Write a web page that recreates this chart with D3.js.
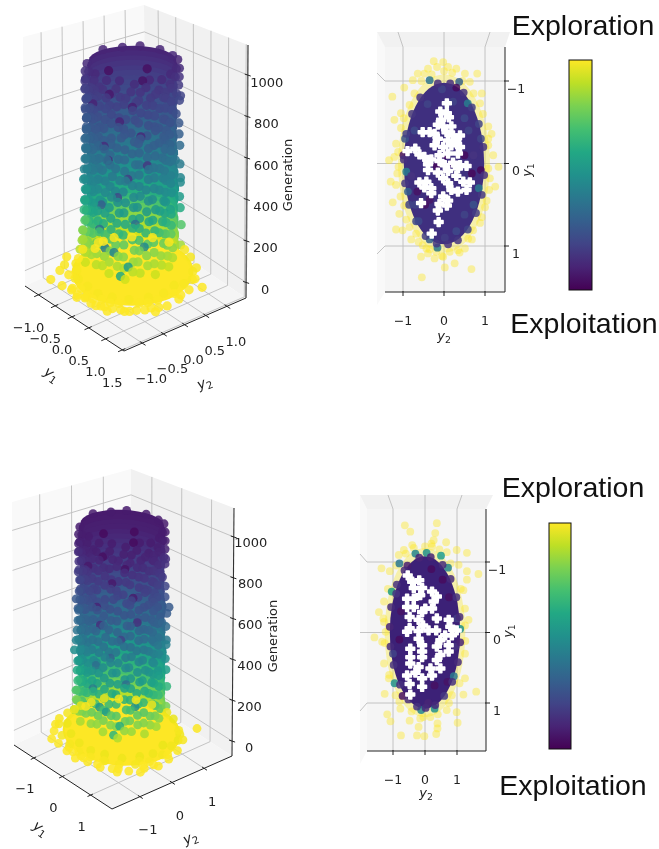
<!DOCTYPE html>
<html>
<head>
<meta charset="utf-8">
<script src="https://cdn.jsdelivr.net/npm/d3@7"></script>
<style>
  html, body { margin: 0; background: #fff; }
  svg { display: block; filter: blur(0.35px); }
  text { font-family: "DejaVu Sans", sans-serif; fill: #222; }
  .big { font-family: "Liberation Sans", Arial, sans-serif; fill: #111; font-size: 28.5px; }
</style>
</head>
<body>
<div id="chart"></div>
<script>
// ---- tick labels ----
var y1TicksA = [-1, -0.5, 0, 0.5, 1, 1.5];
var y2TicksA = [-1, -0.5, 0, 0.5, 1];
var y1TicksB = [-1, 0, 1];
var y2TicksB = [-1, 0, 1];
var genTicks = [0, 200, 400, 600, 800, 1000];
var topTicks = [-1, 0, 1];

// generation -> position on the colour bar
var genStopsA = [0, 30, 120, 217, 315, 460, 700, 940, 1050];
var colorStopsA = [1, 0.99, 0.91, 0.8, 0.63, 0.48, 0.3, 0.17, 0.1];
var genStopsB = [0, 25, 123, 222, 320, 517, 763, 960, 1050];
var colorStopsB = [1, 0.98, 0.85, 0.7, 0.58, 0.37, 0.2, 0.09, 0.07];

// column outline: generation, radius
var bandsA = [[1045,.8],[1020,.83],[995,.82],[970,.84],[945,.81],[920,.83],[895,.82],[870,.85],[845,.83],[820,.81],[795,.83],[770,.82],[745,.8],[720,.82],[695,.81],[670,.83],[645,.81],[620,.82],[595,.84],[570,.82],[545,.81],[520,.83],[495,.85],[470,.83],[445,.84],[420,.86],[395,.84],[370,.85],[345,.83],[320,.84],[295,.83],[270,.85],[245,.84],[220,.83],[195,.86],[170,.85],[145,.86],[120,.86],[95,.88],[70,.91],[50,.98],[30,1.08],[15,1.13],[0,1.1]];
var bandsB = [[1045,.96],[1020,1],[995,.99],[970,1.01],[945,.98],[920,1],[895,.99],[870,1.01],[845,.99],[820,.98],[795,1],[770,.98],[745,.97],[720,.99],[695,.98],[670,1],[645,1.03],[620,1.01],[595,.98],[570,.99],[545,1],[520,1.01],[495,1],[470,1.02],[445,1.01],[420,1.04],[395,1.03],[370,1.01],[345,1],[320,1.02],[295,1.01],[270,1],[245,1.02],[220,1.01],[195,1],[170,1.02],[145,1.02],[120,1.03],[95,1.05],[70,1.09],[50,1.18],[30,1.3],[15,1.38],[0,1.34]];

// column points: y1, y2, generation
var bodyA = [
[-.84,0,1040],[-.74,.38,1036],[-.55,.64,1042],[-.2,.82,1038],[.15,.83,1032],[.44,.71,1040],[.7,.46,1028],
[-.6,-.58,1022],[-.34,-.76,1012],[-.06,-.84,1025],[.22,-.8,1010],[.47,-.7,1020],[.68,-.52,1008],[.82,-.28,1024],[.86,-.02,1014],[.8,.24,1021],[.62,.6,1016],
[-.63,-.6,985],[-.37,-.8,975],[-.1,-.83,990],[.18,-.86,968],[.43,-.75,982],[.64,-.57,972],[.78,-.33,988],[.84,-.07,966],[.84,.2,978],[.72,.42,992],[.58,.63,970],
[-.6,-.63,940],[-.32,-.78,925],[-.04,-.86,948],[.24,-.82,930],[.49,-.7,944],[.7,-.5,922],[.83,-.26,938],[.87,.02,928],[.78,.28,950],[.6,.6,934],
[-.64,-.6,895],[-.36,-.8,880],[-.09,-.85,902],[.2,-.8,875],[.44,-.74,898],[.66,-.54,884],[.79,-.32,905],[.84,-.05,878],[.83,.24,892],[.71,.46,908],[.63,.62,882],
[-.61,-.6,850],[-.33,-.75,832],[-.06,-.87,855],[.23,-.84,828],[.48,-.72,848],[.68,-.5,838],[.81,-.3,860],[.86,.02,825],[.78,.3,845],[.6,.62,858],
[-.6,-.62,800],[-.38,-.78,785],[-.11,-.84,805],[.17,-.82,780],[.44,-.7,798],[.64,-.56,778],[.8,-.28,808],[.85,-.08,788],[.84,.2,795],[.7,.46,810],
[-.62,-.58,755],[-.35,-.8,735],[-.05,-.83,760],[.22,-.86,730],[.5,-.68,752],[.69,-.52,738],[.82,-.33,765],[.87,.03,742],[.76,.26,728],[.61,.6,750],
[-.58,-.62,705],[-.32,-.77,690],[-.08,-.85,712],[.19,-.82,685],[.45,-.74,705],[.66,-.55,682],[.79,-.27,698],[.84,-.06,715],[.82,.22,688],[.64,.58,700],
[-.62,-.62,655],[-.36,-.79,640],[-.1,-.86,662],[.23,-.8,635],[.47,-.72,652],[.7,-.5,630],[.81,-.31,660],[.86,.01,642],[.78,.28,650],[.6,.63,638],
[-.62,-.6,605],[-.34,-.8,590],[-.06,-.83,612],[.18,-.86,586],[.43,-.75,606],[.67,-.56,580],[.8,-.27,600],[.84,-.04,592],[.85,.2,610],[.68,.46,585],
[-.63,-.61,555],[-.37,-.78,540],[-.12,-.84,560],[.21,-.82,535],[.49,-.7,552],[.65,-.53,530],[.83,-.3,558],[.87,.02,545],[.79,.27,532],[.62,.62,550],
[-.64,-.62,505],[-.33,-.82,490],[-.07,-.87,510],[.24,-.84,485],[.44,-.76,502],[.7,-.54,480],[.8,-.33,508],[.85,-.05,492],[.82,.24,500],[.66,.6,488],
[-.65,-.63,455],[-.36,-.8,440],[-.1,-.85,460],[.19,-.86,435],[.47,-.73,450],[.67,-.52,428],[.82,-.29,455],[.88,.03,438],[.78,.3,448],[.62,.63,460],
[-.64,-.6,405],[-.34,-.82,390],[-.05,-.88,412],[.22,-.83,385],[.5,-.72,402],[.7,-.56,378],[.81,-.32,406],[.85,-.04,392],[.84,.22,380],[.66,.58,398],
[-.62,-.63,355],[-.37,-.79,340],[-.09,-.86,362],[.2,-.85,335],[.46,-.74,352],[.66,-.53,330],[.83,-.28,358],[.88,0,342],[.8,.27,350],[.63,.62,338],
[-.65,-.62,305],[-.33,-.8,290],[-.06,-.88,310],[.23,-.83,285],[.48,-.71,302],[.68,-.55,280],[.8,-.33,306],[.86,-.06,292],[.83,.25,300],
[-.63,-.62,255],[-.36,-.82,240],[-.11,-.85,260],[.18,-.87,235],[.44,-.75,250],[.7,-.52,230],[.82,-.3,254],[.89,.02,238],[.76,.3,248],[.66,.62,258],
[-.67,-.64,205],[-.34,-.84,190],[-.07,-.9,210],[.24,-.86,185],[.5,-.74,200],[.72,-.56,180],[.84,-.34,204],[.9,-.05,186],[.86,.26,196],
[-.66,-.64,160],[-.36,-.84,145],[-.09,-.9,165],[.21,-.88,140],[.5,-.76,155],[.72,-.57,135],[.86,-.33,158],[.91,-.04,142],[.87,.25,150],[.67,.6,162]
];
var bodyA2 = [
[-.5,-.7,962],[-.2,-.82,948],[.08,-.85,972],[.34,-.78,955],[.57,-.63,940],[.74,-.43,968],[.85,-.16,952],[.82,.1,944],
[-.48,-.72,918],[-.24,-.84,905],[.04,-.86,925],[.31,-.8,898],[.55,-.66,912],[.72,-.45,930],[.83,-.2,900],[.86,.08,920],
[-.47,-.68,870],[-.21,-.83,852],[.07,-.84,880],[.35,-.79,858],[.58,-.64,842],[.75,-.42,872],[.84,-.17,850],[.8,.12,866],
[-.5,-.71,822],[-.23,-.81,805],[.05,-.87,830],[.32,-.77,812],[.56,-.67,798],[.73,-.46,826],[.86,-.18,800],[.84,.09,815],
[-.46,-.7,775],[-.2,-.84,758],[.08,-.85,782],[.36,-.8,748],[.54,-.63,768],[.76,-.44,752],[.83,-.14,778],[.82,.13,760],
[-.49,-.69,728],[-.22,-.82,708],[.06,-.86,735],[.33,-.78,715],[.57,-.65,700],[.74,-.47,730],[.85,-.19,712],[.85,.07,722],
[-.47,-.72,678],[-.24,-.85,660],[.03,-.84,688],[.34,-.81,668],[.55,-.64,650],[.72,-.43,682],[.84,-.15,660],[.81,.11,672],
[-.5,-.7,628],[-.19,-.82,610],[.09,-.87,635],[.31,-.79,618],[.58,-.66,600],[.75,-.45,630],[.86,-.2,608],[.84,.1,622],
[-.48,-.71,578],[-.21,-.83,562],[.05,-.85,585],[.36,-.77,565],[.56,-.62,550],[.73,-.44,580],[.83,-.16,556],[.83,.08,572],
[-.46,-.7,528],[-.23,-.84,510],[.07,-.87,535],[.33,-.8,518],[.54,-.66,500],[.76,-.46,530],[.85,-.18,508],[.81,.13,522],
[-.5,-.72,478],[-.2,-.82,460],[.04,-.86,485],[.35,-.78,468],[.57,-.63,450],[.74,-.42,480],[.84,-.21,458],[.86,.09,472],
[-.48,-.7,428],[-.24,-.85,410],[.08,-.84,435],[.32,-.81,418],[.55,-.65,402],[.72,-.47,430],[.86,-.15,408],[.83,.11,422],
[-.49,-.73,378],[-.21,-.83,360],[.06,-.88,385],[.34,-.79,368],[.58,-.64,350],[.75,-.44,378],[.83,-.19,358],[.85,.08,372],
[-.47,-.71,328],[-.23,-.84,310],[.05,-.86,335],[.36,-.8,318],[.56,-.67,300],[.73,-.43,328],[.85,-.16,308],[.82,.13,322],
[-.5,-.7,278],[-.2,-.86,260],[.08,-.85,285],[.33,-.78,268],[.54,-.64,250],[.76,-.46,278],[.87,-.2,258],[.84,.1,272],
[-.52,-.75,228],[-.24,-.87,210],[.06,-.9,235],[.36,-.82,218],[.58,-.68,200],[.76,-.45,228],[.86,-.18,208],[.88,.11,222],
[-.54,-.76,178],[-.24,-.88,160],[.07,-.9,185],[.36,-.84,168],[.6,-.69,150],[.76,-.48,178],[.88,-.19,158],[.9,.11,172],
[-.6,-.76,128],[-.27,-.9,110],[.08,-.92,135],[.38,-.86,118],[.63,-.68,100],[.8,-.46,128],[.9,-.18,108],[.92,.12,122]
];
var footA = [
[-.82,-1.28,4],[-.52,-1.25,3],[-.9,-1,15],[1.2,.69,5],[1.31,-.5,2],[.72,-1.17,2],[-.98,-.5,20],[-1.05,-.05,21],[-.7,-.95,10],[-.3,-1.18,7],[-.02,-1.3,3],[.3,-1.22,1],[.52,-1.16,5],[.84,-.95,2],[1.05,-.74,3],[1.18,-.5,7],[1.28,-.2,1],[1.25,.1,5],[1.15,.42,11],[.95,.72,17],[-.45,-1,24],[-.15,-1.1,13],[.1,-1.15,9],[.4,-1.05,15],[.7,-.88,11],[.95,-.6,14],[1.1,-.28,17],[1.12,.1,18],[1,.42,25],[.78,.8,28],
[-.62,-.82,30],[-.35,-1,31],[-.05,-1.02,28],[.25,-1.02,24],[.55,-.92,29],[.8,-.72,26],[1,-.42,31],[1.05,-.1,29],[.98,.2,33],[-.8,-.7,33],
[.05,-1.15,0],[.55,-1.1,0],[.98,-.85,0],[1.12,-.6,0],[-.1,-1.22,0],[.2,-1.1,0],[.42,-1.2,0],[.7,-1.03,0],[.92,-.92,0],[1.22,-.35,0],
[-1.1,-.3,35],[-1.14,.1,27],[-1.05,.4,34],[-.9,.7,26],[-.6,.95,33],[-.3,1.1,29],[.1,1.15,31],[.4,1.05,36],[.7,.95,24],[1.02,.6,31],[-1.2,-.6,14],[-1.18,.25,15],[-.95,-.85,24],[.15,-1.24,12],[.62,-1.02,18],[1.08,-.5,22],[1.18,.2,9],[-.2,-1.28,18]
];
var spotsA = [
[.3,-.82,640,.14],[.6,-.6,560,.18],[.2,-.84,700,.13],[.75,-.42,760,.12],[.5,-.72,830,.1],[-.1,-.86,880,.1],[.66,-.55,900,.09],[.45,-.72,470,.22],[.15,-.86,420,.3],[.7,-.5,350,.36],[.25,-.85,225,.42],[.62,-.6,150,.55],[.4,-.76,210,.45],[.78,-.35,240,.48],[.1,-.86,300,.36],[.52,-.7,105,.6],[.8,-.3,620,.16],[.3,-.8,950,.07],[.65,-.3,1010,.05],[-.2,-.4,1005,.04],[.3,.1,1020,.04]
];
var bodyB = [
[-.98,0,1040],[-.86,.45,1035],[-.64,.74,1042],[-.22,.96,1038],[.18,.97,1032],[.52,.83,1040],[.8,.52,1028],
[-.7,-.68,1022],[-.4,-.9,1012],[-.08,-.98,1025],[.24,-.95,1010],[.54,-.83,1020],[.78,-.62,1008],[.94,-.33,1024],[1,-.04,1014],[.96,.27,1021],[.7,.7,1016],
[-.72,-.7,985],[-.42,-.93,975],[-.12,-.99,990],[.2,-1,968],[.5,-.86,982],[.75,-.65,972],[.9,-.38,988],[.98,-.08,966],[.97,.22,978],[.84,.5,992],[.68,.72,970],
[-.7,-.72,940],[-.38,-.92,925],[-.06,-1,948],[.26,-.96,930],[.56,-.82,944],[.8,-.6,922],[.95,-.3,938],[1.01,.02,928],[.92,.3,950],[.72,.68,934],
[-.74,-.69,895],[-.42,-.9,880],[-.1,-.99,902],[.22,-.95,875],[.5,-.87,898],[.76,-.63,884],[.9,-.36,905],[.97,-.06,878],[.96,.25,892],[.83,.54,908],[.7,.72,882],
[-.71,-.7,850],[-.38,-.88,832],[-.08,-1.01,855],[.25,-.98,828],[.54,-.84,848],[.78,-.6,838],[.93,-.34,860],[.99,.02,825],[.9,.33,845],[.7,.7,858],
[-.7,-.73,800],[-.44,-.9,785],[-.13,-.97,805],[.18,-.96,780],[.5,-.82,798],[.74,-.65,778],[.92,-.32,808],[.98,-.1,788],[.97,.22,795],[.81,.52,810],
[-.72,-.67,755],[-.4,-.93,735],[-.06,-.96,760],[.25,-1,730],[.57,-.8,752],[.8,-.6,738],[.94,-.37,765],[1,.03,742],[.88,.3,728],[.71,.7,750],
[-.68,-.72,705],[-.37,-.9,690],[-.1,-.98,712],[.2,-.96,685],[.52,-.86,705],[.77,-.64,682],[.91,-.31,698],[.97,-.07,715],[.95,.24,688],[.74,.67,700],
[-.76,-.74,662],[-.46,-.96,648],[-.14,-1.03,668],[.27,-.93,635],[.54,-.84,652],[.8,-.58,630],[.93,-.36,660],[1,.01,642],[.98,.3,640],[.8,.74,650],[.9,.58,635],
[-.72,-.7,605],[-.4,-.93,590],[-.07,-.97,612],[.2,-1,586],[.5,-.87,606],[.78,-.65,580],[.92,-.31,600],[.97,-.05,592],[.98,.22,610],[.79,.53,585],
[-.73,-.71,555],[-.43,-.9,540],[-.14,-.98,560],[.23,-.96,535],[.56,-.82,552],[.75,-.62,530],[.95,-.35,558],[1.01,.02,545],[.91,.31,532],[.72,.72,550],
[-.75,-.72,505],[-.38,-.95,490],[-.08,-1.01,510],[.27,-.97,485],[.51,-.88,502],[.8,-.62,480],[.92,-.38,508],[.98,-.06,492],[.95,.27,500],[.76,.7,488],
[-.76,-.74,455],[-.42,-.93,440],[-.12,-.99,460],[.22,-1,435],[.54,-.85,450],[.78,-.6,428],[.95,-.34,455],[1.02,.03,438],[.9,.35,448],[.72,.73,460],
[-.8,-.76,405],[-.4,-.95,390],[-.06,-1.02,412],[.25,-.96,385],[.58,-.83,402],[.81,-.65,378],[.94,-.37,406],[.98,-.05,392],[.97,.25,380],[.76,.67,398],
[-.72,-.73,355],[-.43,-.92,340],[-.1,-1,362],[.23,-.98,335],[.53,-.86,352],[.76,-.61,330],[.96,-.32,358],[1.02,0,342],[.93,.31,350],[.73,.72,338],
[-.75,-.72,305],[-.38,-.93,290],[-.07,-1.02,310],[.27,-.96,285],[.56,-.82,302],[.79,-.64,280],[.93,-.38,306],[1,-.07,292],[.96,.29,300],
[-.73,-.72,255],[-.42,-.95,240],[-.13,-.98,260],[.2,-1.01,235],[.51,-.87,250],[.81,-.6,230],[.95,-.35,254],[1.03,.02,238],[.88,.35,248],[.76,.72,258],
[-.77,-.74,205],[-.39,-.97,190],[-.08,-1.04,210],[.28,-1,185],[.58,-.86,200],[.83,-.65,180],[.97,-.39,204],[1.04,-.06,186],[1,.3,196],
[-.76,-.74,160],[-.42,-.97,145],[-.11,-1.03,165],[.24,-1,140],[.57,-.87,155],[.82,-.66,135],[.97,-.38,158],[1.04,-.05,142],[.99,.27,150],[.76,.7,162]
];
var bodyB2 = [
[-.56,-.82,962],[-.24,-.95,948],[.09,-.99,972],[.38,-.9,955],[.66,-.73,940],[.85,-.5,968],[.98,-.19,952],[.95,.11,944],
[-.55,-.84,918],[-.28,-.97,905],[.05,-.99,925],[.36,-.92,898],[.63,-.76,912],[.83,-.52,930],[.95,-.23,900],[.99,.09,920],
[-.54,-.78,870],[-.24,-.95,852],[.08,-.97,880],[.4,-.91,858],[.67,-.74,842],[.86,-.48,872],[.97,-.2,850],[.92,.14,866],
[-.58,-.82,822],[-.26,-.93,805],[.06,-1,830],[.37,-.89,812],[.64,-.77,798],[.84,-.53,826],[.99,-.21,800],[.97,.1,815],
[-.53,-.8,775],[-.23,-.97,758],[.09,-.98,782],[.41,-.92,748],[.62,-.72,768],[.87,-.51,752],[.95,-.16,778],[.94,.15,760],
[-.56,-.79,728],[-.25,-.94,708],[.07,-.99,735],[.38,-.9,715],[.66,-.75,700],[.85,-.54,730],[.98,-.22,712],[.98,.08,722],
[-.54,-.83,678],[-.28,-.98,660],[.03,-.97,688],[.39,-.93,668],[.63,-.74,650],[.83,-.49,682],[.97,-.17,660],[.93,.13,672],
[-.58,-.8,628],[-.22,-.94,610],[.1,-1,635],[.36,-.91,618],[.67,-.76,600],[.86,-.52,630],[.99,-.23,608],[.97,.11,622],
[-.55,-.82,578],[-.24,-.95,562],[.06,-.98,585],[.41,-.89,565],[.64,-.71,550],[.84,-.51,580],[.95,-.18,556],[.95,.09,572],
[-.53,-.8,528],[-.26,-.97,510],[.08,-1,535],[.38,-.92,518],[.62,-.76,500],[.87,-.53,530],[.98,-.21,508],[.93,.15,522],
[-.58,-.83,478],[-.23,-.94,460],[.05,-.99,485],[.4,-.9,468],[.66,-.72,450],[.85,-.48,480],[.97,-.24,458],[.99,.1,472],
[-.55,-.8,428],[-.28,-.98,410],[.09,-.97,435],[.37,-.93,418],[.63,-.75,402],[.83,-.54,430],[.99,-.17,408],[.95,.13,422],
[-.56,-.84,378],[-.24,-.95,360],[.07,-1.01,385],[.39,-.91,368],[.67,-.74,350],[.86,-.51,378],[.95,-.22,358],[.98,.09,372],
[-.54,-.82,328],[-.26,-.97,310],[.06,-.99,335],[.41,-.92,318],[.64,-.77,300],[.84,-.49,328],[.98,-.18,308],[.94,.15,322],
[-.58,-.8,278],[-.23,-.99,260],[.09,-.98,285],[.38,-.9,268],[.62,-.74,250],[.87,-.53,278],[1,-.23,258],[.97,.11,272],
[-.6,-.86,228],[-.28,-1,210],[.07,-1.03,235],[.41,-.94,218],[.67,-.78,200],[.87,-.52,228],[.99,-.21,208],[1.01,.13,222],
[-.6,-.86,178],[-.27,-1,160],[.08,-1.02,185],[.41,-.95,168],[.67,-.78,150],[.86,-.53,178],[.99,-.21,158],[1.01,.13,172],
[-.66,-.9,128],[-.3,-1.03,110],[.1,-1.06,135],[.43,-.98,118],[.72,-.78,100],[.9,-.51,128],[1.02,-.21,108],[1.04,.14,122]
];
var footB = [
[.9,1.55,6],[-1.36,-.73,10],[-.86,-1.43,3],[1.15,-1.18,1],[1.48,-.75,1],[-1.2,-1,14],[-1.3,-.3,30],[-1.05,-1.18,7],[-.6,-1.45,5],[-.25,-1.5,3],[.1,-1.55,2],[.42,-1.45,5],[.75,-1.35,1],[1,-1.2,6],[1.3,-.95,4],[1.45,-.6,7],[1.55,-.25,3],[1.5,.12,8],[1.38,.5,13],[1.15,.88,19],[-.7,-1.25,21],[-.35,-1.32,16],[0,-1.35,11],[.35,-1.3,13],[.68,-1.18,15],[1,-.98,12],[1.25,-.7,15],[1.35,-.35,14],[1.36,.05,20],[1.22,.45,25],[1,.92,29],[-.95,-.85,31],[-.55,-1.1,33],[-.15,-1.2,30],[.25,-1.2,28],[.6,-1.08,32],[.95,-.85,28],[1.18,-.5,33],[1.25,-.15,30],[1.15,.25,35],[.6,-1.3,0],[1.05,-1.05,0],[.2,-1.38,0],[-.15,-1.4,0],[1.3,-.5,0],[1.42,-.28,0],
[-1.3,-.1,35],[-1.32,.25,25],[-1.2,.55,34],[-1.02,.85,26],[-.7,1.1,33],[-.35,1.28,29],[.12,1.32,31],[.45,1.22,36],[.82,1.05,24],[1.18,.7,31],[-1.38,-.45,15],[-1.35,.1,11],[-1.1,-.98,24],[.18,-1.44,12],[.72,-1.18,18],[1.25,-.58,22],[1.35,.22,9],[-.23,-1.45,18]
];
var spotsB = [
[.3,-.96,620,.14],[.7,-.68,560,.2],[.2,-.98,700,.1],[.86,-.45,760,.08],[.56,-.84,830,.07],[-.1,-.98,880,.07],[.76,-.62,900,.05],[.52,-.84,470,.3],[.2,-1,420,.36],[.8,-.6,350,.36],[.3,-.97,225,.52],[.7,-.7,150,.62],[.45,-.9,210,.55],[.9,-.4,240,.5],[.1,-1,300,.42],[.6,-.8,105,.65],[.9,-.35,640,.14],[.35,-.94,950,.04],[.7,-.3,1010,.03],[-.2,-.4,1005,.03],[.3,.1,1020,.03]
];

// top views: y2, y1
var eliteC = [[.07,-.73],[-.09,-.63],[.07,-.61],[-.07,-.53],[.12,-.56],[-.15,-.47],[-.02,-.45],[.18,-.45],[-.52,-.38],[-.35,-.38],[-.23,-.36],[.06,-.38],[.22,-.34],[.39,-.34],[-.15,-.3],[.1,-.28],[.3,-.26],[-.23,-.22],[-.02,-.2],[.18,-.22],[.39,-.2],[-.89,-.15],[-.7,-.18],[-.6,-.11],[-.48,-.08],[.34,-.12],[-.11,-.1],[.1,-.12],[-.31,-.05],[-.11,-.03],[.22,-.01],[.39,.02],[.55,.03],[-.39,.01],[.02,.02],[-.39,.08],[-.15,.11],[.1,.09],[.34,.06],[-.6,.23],[-.43,.22],[-.02,.18],[.3,.15],[.63,.23],[-.48,.29],[-.31,.3],[.1,.24],[.47,.22],[-.31,.36],[.18,.32],[.34,.34],[.55,.32],[-.02,.4],[.1,.45],[-.56,.48],[-.11,.49],[.07,.51],[-.15,.57],[-.13,.71],[-.3,.85]];
var eliteD = [[-.54,-.81],[-.4,-.72],[-.18,-.74],[-.35,-.63],[-.09,-.63],[.22,-.58],[.37,-.51],[-.56,-.48],[-.35,-.48],[-.15,-.53],[.27,-.44],[-.56,-.36],[-.35,-.36],[.01,-.34],[.22,-.34],[-.09,-.29],[-.48,-.22],[-.2,-.18],[.37,-.2],[.74,-.18],[.79,-.08],[.99,-.03],[-.06,-.1],[-.48,-.06],[-.2,-.02],[.11,-.03],[.35,-.03],[-.56,-.01],[.63,.04],[.84,.04],[-.2,.09],[.48,.11],[.74,.18],[-.46,.23],[-.09,.18],[.37,.2],[-.09,.27],[.74,.27],[.48,.32],[-.46,.35],[-.09,.35],[.37,.39],[-.46,.44],[-.2,.49],[.17,.51],[.48,.51],[-.56,.61],[-.3,.57],[.22,.61],[-.09,.65],[-.48,.73],[-.09,.77],[-.46,.88]];
var earlyC = [[-.25,-1.24],[-.02,-1.23],[-.39,-1.15],[-.17,-1.17],[.1,-1.17],[.3,-1.15],[.51,-1.09],[.81,-1.09],[-.64,-1.09],[-.48,-1.09],[-.76,-1.01],[-.97,-.92],[-1.26,-.81],[.63,-.99],[.92,-.85],[-.84,-.71],[-1.21,-.53],[-1.05,-.43],[1.16,-.36],[-1.17,-.24],[1.08,-.22],[1.2,-.1],[-1.34,-.04],[1.08,.06],[1.33,.04],[-1.3,.22],[-1.17,.26],[1.25,.28],[-1.25,.47],[1,.53],[-1.09,.61],[-.97,.51],[.92,.65],[-1.17,.8],[-.84,.77],[.71,.81],[-.8,.92],[.59,.91],[-.56,1.13],[-.39,1.09],[-.23,1.15],[-.02,1.13],[.26,1.21],[.02,1.26],[.67,1.28],[-.54,1.38],[-.19,1.07],[.34,1.05],[.51,1.03],[-.68,.85],[-1.21,-.08],[1.08,-.45],[.88,-.73],[-1.05,-.61],[-1.11,.04],[1.04,.45],[-1.01,.81],[-.43,1.03],[.14,1.07],[-.52,.99],
[-.3,-1.08],[.2,-1.1],[.45,-1],[.72,-.85],[.95,-.6],[1.08,-.3],[1.12,.18],[1.1,.32],[.88,.72],[.68,.92],[.38,1.08],[-.05,1.12],[-.35,1.04],[-.62,.95],[-.92,.68],[-1.06,.4],[-1.14,.12],[-1.12,-.14],[-.98,-.55],[-.72,-.85],[-.55,-1],[.0,-1.12]];
var earlyD = [[-.63,-1.52],[-.46,-1.43],[.37,-1.55],[.32,-1.41],[.27,-1.31],[.22,-1.22],[.66,-1.28],[-.4,-1.24],[-.66,-1.17],[-.82,-1.1],[.99,-1.17],[1.31,-1.13],[.68,-1.14],[-1.36,-.91],[-1.1,-.87],[1.31,-.87],[1.67,-.83],[1.31,-.75],[1.05,-.96],[1.2,-.6],[-1.03,-.58],[-1.28,-.44],[1.25,-.34],[-1.44,-.29],[1.36,-.18],[-1.28,-.15],[-1.58,.07],[-1.34,.13],[-1.28,.44],[1.25,.3],[-1.13,.65],[1.25,.65],[-1.26,.87],[1.2,.88],[1.6,.84],[-.92,.89],[.84,.89],[-1.18,1.16],[-1.08,1.26],[-.48,1.25],[-.15,1.22],[.17,1.2],[.99,1.13],[1.02,1.28],[.39,1.29],[.39,1.36],[-.2,1.34],[-.75,1.46],[-.25,1.46],[.35,1.44],[-.02,1.47],[.68,1.1],[-.77,1.08],[-1.23,-.01],
[-.35,-1.2],[.0,-1.22],[.45,-1.18],[.8,-.98],[1.12,-.62],[1.25,-.1],[1.26,.12],[1.08,.72],[.75,1],[.4,1.16],[-.05,1.2],[-.42,1.12],[-.8,.98],[-1.12,.6],[-1.26,.15],[-1.3,-.2],[-1.16,-.62],[-.9,-.95],[-.6,-1.12],[.2,-1.26]];
// y2, y1, colour bar position
var massC = [[-.35,-1.01,.38],[.37,-.99,.3],[-.16,1.02,.4],[-.99,-.1,.05],[-.92,.1,.42],[-.88,.34,.3],[.3,-.92,.03],[.58,-.73,.42],[.85,.3,.4],[.9,.08,.02],[.68,.12,.02],[-.65,.34,.05],[-.46,.5,.04],[-.35,.44,.06],[.2,.0,.05],[-.18,.03,.03],[.22,-.75,.2],[-.4,-.72,.2],[-.72,-.4,.22],[-.95,-.3,.25],[.6,-.4,.2],[.5,-.55,.22],[-.7,.5,.2],[-.62,.7,.22],[.5,.62,.2],[.72,.5,.25],[.3,.82,.22],[-.35,.92,.3],[.02,.9,.18],[-.05,-.9,.2],[.05,-.1,.03],[.5,-.1,.03],[.72,-.1,.15],[-.8,.15,.15],[.9,-.3,.2],
[-.15,-.97,.14],[.15,-.97,.14],[.48,-.86,.15],[.68,-.68,.18],[.85,-.48,.2],[.96,-.2,.15],[.98,.14,.14],[.92,.38,.16],[.78,.6,.18],[.58,.8,.2],[.34,.93,.16],[.1,.98,.15],[-.18,.97,.16],[-.45,.88,.18],[-.68,.7,.22],[-.85,.5,.2],[-.95,.24,.16],[-.98,-.05,.14],[-.92,-.36,.18],[-.78,-.6,.16],[-.58,-.8,.15]];
var massD = [[-.3,-1.12,.45],[.05,-1.13,.5],[.5,-1.09,.55],[.72,-.92,.45],[-.8,-.98,.4],[-1.04,-.58,.55],[1.1,-.05,.5],[-.95,.72,.5],[-.12,1.1,.45],[.3,1.08,.5],[.9,.62,.4],[-1,.3,.2],[-.8,.1,.03],[-.75,-.3,.05],[.75,-.5,.04],[.55,-.75,.03],[.7,.7,.05],[.3,.75,.04],[-.7,.9,.04],[.95,.2,.15],[1,-.2,.18],[-.9,-.55,.15],[-.55,-.95,.08],[.2,-.9,.03],[.1,1,.1],
[-.18,-1.06,.1],[.18,-1.07,.1],[.55,-.96,.12],[.8,-.76,.12],[.98,-.5,.14],[1.08,-.22,.12],[1.1,.14,.1],[1.03,.42,.12],[.85,.7,.14],[.6,.9,.16],[.32,1.03,.12],[.02,1.07,.12],[-.25,1.05,.14],[-.52,.95,.12],[-.78,.74,.14],[-.98,.46,.14],[-1.08,.2,.12],[-1.1,-.08,.1],[-1.06,-.36,.12],[-.88,-.68,.14],[-.64,-.88,.12]];

// ---- colours ----
var C_LEFT = "#f9f9f9", C_RIGHT = "#f1f1f1", C_FLOOR = "#f5f5f5", C_GRID = "#bdbdbd";

var svg = d3.select("#chart").append("svg")
    .attr("width", 659)
    .attr("height", 849);

function lerp(a, b, t) { return [a[0] + (b[0] - a[0]) * t, a[1] + (b[1] - a[1]) * t]; }
function viridisAt(t) { return d3.interpolateViridis(t); }

// y with subscript, as mathtext prints it
function mathLabel(g, x, y, sub, rotate, size) {
  var t = g.append("text")
      .attr("text-anchor", "middle")
      .attr("transform", "translate(" + x + "," + y + ") rotate(" + rotate + ")")
      .style("font-size", size + "px");
  t.append("tspan").style("font-style", "oblique").text("y");
  t.append("tspan").attr("dy", 3).style("font-size", (size * 0.72) + "px").text(sub);
}

// 3d panel: box corners give a trilinear map from data to the page
function drawColumn(cfg) {
  var g = svg.append("g");
  var sy1 = d3.scaleLinear().domain(cfg.y1Domain).range([0, 1]);
  var sy2 = d3.scaleLinear().domain(cfg.y2Domain).range([0, 1]);
  var sz = d3.scaleLinear().domain(cfg.zDomain).range([0, 1]);
  var colorT = d3.scaleLinear().domain(cfg.genStops).range(cfg.colorStops);
  var y1a = cfg.y1Domain[0], y1b = cfg.y1Domain[1], y2a = cfg.y2Domain[0], y2b = cfg.y2Domain[1];
  var za = cfg.zDomain[0], zb = cfg.zDomain[1];

  function project(y1, y2, z) {
    var u = sy1(y1), v = sy2(y2), w = sz(z);
    var lo = lerp(lerp(cfg.floor.L, cfg.floor.F, u), lerp(cfg.floor.B, cfg.floor.R, u), v);
    var hi = lerp(lerp(cfg.roof.L, cfg.roof.F, u), lerp(cfg.roof.B, cfg.roof.R, u), v);
    return lerp(lo, hi, w);
  }
  var line = d3.line();
  function seg(pts, stroke, width) {
    g.append("path").attr("d", line(pts)).attr("fill", "none").attr("stroke", stroke).attr("stroke-width", width);
  }
  function pane(pts, fill) {
    g.append("path").attr("d", line(pts) + "Z").attr("fill", fill);
  }

  pane([cfg.floor.L, cfg.roof.L, cfg.roof.B, cfg.floor.B], C_LEFT);
  pane([cfg.floor.B, cfg.roof.B, cfg.roof.R, cfg.floor.R], C_RIGHT);
  pane([cfg.floor.L, cfg.floor.F, cfg.floor.R, cfg.floor.B], C_FLOOR);

  cfg.y1Ticks.forEach(function(t) {
    seg([project(t, y2a, za), project(t, y2b, za), project(t, y2b, zb)], C_GRID, 0.9);
  });
  cfg.y2Ticks.forEach(function(t) {
    seg([project(y1b, t, za), project(y1a, t, za), project(y1a, t, zb)], C_GRID, 0.9);
  });
  genTicks.forEach(function(t) {
    seg([project(y1a, y2a, t), project(y1a, y2b, t), project(y1b, y2b, t)], C_GRID, 0.9);
  });

  // axis lines
  seg([project(y1a, y2a, za), project(y1b, y2a, za)], "#222", 1);
  seg([project(y1b, y2a, za), project(y1b, y2b, za)], "#222", 1);
  seg([project(y1b, y2b, za), project(y1b, y2b, zb)], cfg.zAxisColor, cfg.zAxisWidth);

  function label(p, off, txt) {
    g.append("text").attr("x", p[0] + off[0]).attr("y", p[1] + off[1] + 4.5)
      .attr("text-anchor", "middle").style("font-size", "13px").text(txt);
  }
  cfg.y1Ticks.forEach(function(t) {
    var p = project(t, y2a, za);
    seg([project(t, y2a + 0.07, za), project(t, y2a - 0.1, za)], "#222", 1);
    label(p, cfg.y1Off, cfg.format(t));
  });
  cfg.y2Ticks.forEach(function(t) {
    var p = project(y1b, t, za);
    seg([project(y1b - 0.07, t, za), project(y1b + 0.1, t, za)], "#222", 1);
    label(p, cfg.y2Off, cfg.format(t));
  });
  genTicks.forEach(function(t) {
    var p = project(y1b, y2b, t);
    seg([[p[0] - 3, p[1] - 1], [p[0] + 3, p[1] + 1]], "#222", 1);
    label(p, cfg.zOff, t);
  });
  mathLabel(g, cfg.y1Label[0], cfg.y1Label[1], "1", 35, 14);
  mathLabel(g, cfg.y2Label[0], cfg.y2Label[1], "2", -22, 14);
  g.append("text").attr("text-anchor", "middle").style("font-size", "13px")
    .attr("transform", "translate(" + cfg.zLabel[0] + "," + cfg.zLabel[1] + ") rotate(-90)")
    .text("Generation");

  // body of the column, one cross section per band, top one first
  var circle = d3.range(0, 6.3, 0.2);
  g.selectAll(".band").data(cfg.bands).enter().append("path")
    .attr("class", "band")
    .attr("d", function(d) {
      return line(circle.map(function(a) {
        return project(d[1] * Math.cos(a), d[1] * Math.sin(a), d[0]);
      })) + "Z";
    })
    .attr("fill", function(d) { return viridisAt(colorT(d[0])); });

  var pts = cfg.body.concat(cfg.foot).map(function(d) {
    return { y1: d[0], y2: d[1], gen: d[2], t: colorT(d[2]) };
  }).concat(cfg.spots.map(function(d) {
    return { y1: d[0], y2: d[1], gen: d[2], t: d[3] };
  }));
  pts.sort(function(a, b) { return d3.descending(a.gen, b.gen); });

  g.selectAll(".pt").data(pts).enter().append("circle")
    .attr("class", "pt")
    .attr("cx", function(d) { return project(d.y1, d.y2, d.gen)[0]; })
    .attr("cy", function(d) { return project(d.y1, d.y2, d.gen)[1]; })
    .attr("r", cfg.r)
    .attr("fill", function(d) { return viridisAt(d.t); })
    .attr("fill-opacity", 0.85);
}

// top-down panel with white markers for the final population
function drawTop(cfg) {
  var g = svg.append("g");
  var x = d3.scaleLinear().domain([-1, 1]).range(cfg.y2Range);
  var y = d3.scaleLinear().domain([-1, 1]).range(cfg.y1Range);
  var line = d3.line();
  var f = cfg.frame;

  g.append("path").attr("d", line([[f.ox0, f.oy0], [f.x0, f.y0], [f.x0, f.y1], [f.ox0, f.oy1]]) + "Z").attr("fill", C_LEFT);
  g.append("path").attr("d", line([[f.ox0, f.oy0], [f.ox1, f.oy0], [f.x1, f.y0], [f.x0, f.y0]]) + "Z").attr("fill", C_RIGHT);
  g.append("rect").attr("x", f.x0).attr("y", f.y0).attr("width", f.x1 - f.x0).attr("height", f.y1 - f.y0).attr("fill", C_FLOOR);

  topTicks.forEach(function(t) {
    g.append("path").attr("fill", "none").attr("stroke", C_GRID).attr("stroke-width", 0.9)
      .attr("d", line([[x(t) + t * 5, f.oy0], [x(t), f.y0], [x(t), f.y1]]));
    g.append("path").attr("fill", "none").attr("stroke", C_GRID).attr("stroke-width", 0.9)
      .attr("d", line([[f.ox0, y(t) + t * 8], [f.x0, y(t)], [f.x1, y(t)]]));
    g.append("path").attr("stroke", "#222").attr("d", line([[x(t), f.y1 - 1], [x(t), f.y1 + 4]]));
    g.append("path").attr("stroke", "#222").attr("d", line([[f.x1 - 1, y(t)], [f.x1 + 4, y(t)]]));
    g.append("text").attr("x", x(t)).attr("y", f.y1 + 33).attr("text-anchor", "middle").style("font-size", "12.5px").text(d3.format("d")(t));
    g.append("text").attr("x", f.x1 + 11).attr("y", y(t) + 11.5).attr("text-anchor", "middle").style("font-size", "12.5px").text(d3.format("d")(t));
  });
  g.append("path").attr("fill", "none").attr("stroke", "#222").attr("stroke-width", 1)
    .attr("d", line([[f.x0, f.y1], [f.x1, f.y1], [f.x1, f.y0]]));
  mathLabel(g, cfg.y2Label[0], cfg.y2Label[1], "2", 0, 13);
  mathLabel(g, cfg.y1Label[0], cfg.y1Label[1], "1", -90, 13);

  // early generations round the rim
  g.append("ellipse").attr("cx", x(0)).attr("cy", y(0))
    .attr("rx", x(cfg.rimRadius[0]) - x(0)).attr("ry", y(cfg.rimRadius[1]) - y(0))
    .attr("fill", "#f7e83c").attr("fill-opacity", 0.4);
  g.selectAll(".early").data(cfg.early).enter().append("circle")
    .attr("cx", function(d) { return x(d[0]); })
    .attr("cy", function(d) { return y(d[1]); })
    .attr("r", cfg.r)
    .attr("fill", viridisAt(1))
    .attr("fill-opacity", 0.42);

  g.append("ellipse").attr("cx", x(0)).attr("cy", y(0))
    .attr("rx", x(cfg.massRadius[0]) - x(0)).attr("ry", y(cfg.massRadius[1]) - y(0))
    .attr("fill", cfg.massColor);
  g.selectAll(".mass").data(cfg.mass).enter().append("circle")
    .attr("cx", function(d) { return x(d[0]); })
    .attr("cy", function(d) { return y(d[1]); })
    .attr("r", cfg.r)
    .attr("fill", function(d) { return viridisAt(d[2]); })
    .attr("fill-opacity", 0.85);

  // white P markers, chunky with rounded corners
  var plus = d3.symbol().type(d3.symbolCross).size(cfg.plusSize);
  g.selectAll(".elite").data(cfg.elite).enter().append("path")
    .attr("d", plus)
    .attr("transform", function(d) { return "translate(" + x(d[0]) + "," + y(d[1]) + ")"; })
    .attr("fill", "#fff")
    .attr("stroke", "#fff")
    .attr("stroke-width", 1.6)
    .attr("stroke-linejoin", "round");

  // colour bar
  var cb = cfg.bar;
  var id = "grad" + cfg.name;
  var grad = svg.append("defs").append("linearGradient").attr("id", id)
    .attr("x1", 0).attr("x2", 0).attr("y1", 1).attr("y2", 0);
  d3.range(0, 1.01, 0.1).forEach(function(t) {
    grad.append("stop").attr("offset", t).attr("stop-color", viridisAt(t));
  });
  g.append("rect").attr("x", cb.x).attr("y", cb.y).attr("width", cb.w).attr("height", cb.h)
    .attr("fill", "url(#" + id + ")").attr("stroke", "#111").attr("stroke-width", 1);
  g.append("text").attr("class", "big").attr("x", cfg.top[0]).attr("y", cfg.top[1]).attr("text-anchor", "middle").text("Exploration");
  g.append("text").attr("class", "big").attr("x", cfg.bottom[0]).attr("y", cfg.bottom[1]).attr("text-anchor", "middle").text("Exploitation");
}

drawColumn({
  y1Domain: [-1.4, 1.55], y2Domain: [-1.43, 1.45], zDomain: [-75, 1145],
  floor: { L: [25, 286], F: [124, 351], R: [246, 298], B: [147, 231] },
  roof: { L: [23, 37], F: [127, 77], R: [248, 45], B: [144, 5] },
  y1Ticks: y1TicksA, y2Ticks: y2TicksA, format: d3.format(".1f"),
  y1Off: [-10, 33], y2Off: [9, 35], zOff: [19, 7],
  y1Label: [49, 378], y2Label: [206, 387], zLabel: [292, 175],
  zAxisColor: "#666", zAxisWidth: 1.6,
  genStops: genStopsA, colorStops: colorStopsA,
  bands: bandsA, body: bodyA.concat(bodyA2), foot: footA, spots: spotsA, r: 4.6
});
drawColumn({
  y1Domain: [-1.7, 1.75], y2Domain: [-1.87, 1.87], zDomain: [-73, 1142],
  floor: { L: [14, 745], F: [112, 809], R: [232, 756], B: [131, 690] },
  roof: { L: [12, 502], F: [115, 541], R: [234, 508], B: [131, 469] },
  y1Ticks: y1TicksB, y2Ticks: y2TicksB, format: d3.format("d"),
  y1Off: [-9, 31], y2Off: [8, 33], zOff: [17, 6],
  y1Label: [38, 832], y2Label: [192, 842], zLabel: [277, 636],
  zAxisColor: "#333", zAxisWidth: 1.1,
  genStops: genStopsB, colorStops: colorStopsB,
  bands: bandsB, body: bodyB.concat(bodyB2), foot: footB, spots: spotsB, r: 4.4
});
drawTop({
  name: "C", y2Range: [403, 485], y1Range: [81, 246],
  frame: { x0: 385, x1: 505, y0: 47, y1: 292, ox0: 377, ox1: 510, oy0: 32, oy1: 305 },
  y2Label: [444, 340], y1Label: [531, 170],
  rimRadius: [1.12, 1.08], massRadius: [.98, .98], massColor: "#3f2f7f",
  early: earlyC, mass: massC, elite: eliteC, r: 3.9, plusSize: 42,
  bar: { x: 569, y: 60, w: 23, h: 230 }, top: [583, 35], bottom: [584, 333]
});
drawTop({
  name: "D", y2Range: [393, 457], y1Range: [562, 703],
  frame: { x0: 367, x1: 486, y0: 509, y1: 751, ox0: 360, ox1: 493, oy0: 495, oy1: 764 },
  y2Label: [426, 797], y1Label: [512, 631],
  rimRadius: [1.26, 1.2], massRadius: [1.1, 1.08], massColor: "#3c2177",
  early: earlyD, mass: massD, elite: eliteD, r: 3.9, plusSize: 42,
  bar: { x: 549, y: 523, w: 22, h: 226 }, top: [573, 497], bottom: [573, 795]
});
</script>
</body>
</html>
